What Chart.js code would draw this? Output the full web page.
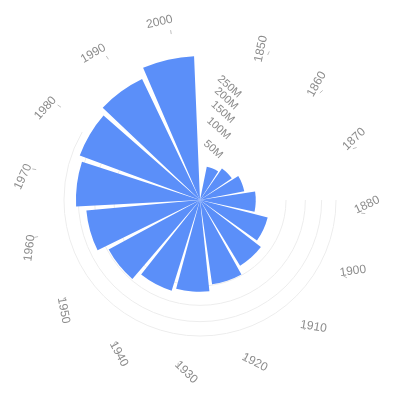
<!DOCTYPE html>
<html><head><meta charset="utf-8">
<script src="https://cdn.jsdelivr.net/npm/chart.js@4"></script>
<style>html,body{margin:0;padding:0;background:#fff}#wrap{width:400px;height:400px}</style>
</head><body><div id="wrap"><canvas id="c" width="400" height="400"></canvas></div>
<script>
// ---- data ----
const years = ['1850','1860','1870','1880','1900','1910','1920','1930','1940','1950','1960','1970','1980','1990','2000'];
const population = [15.5, 20, 27.5, 42, 66, 80, 98, 114, 122, 146, 176, 208, 222, 243, 280]; // millions
const radialTickValues = [50, 100, 150, 200, 250];
const radialTickLabels = ['50M', '100M', '150M', '200M', '250M'];
const gridValues = [100, 150, 200, 250];

// ---- sqrt radial scale ----
class SqrtRadialScale extends Chart.RadialLinearScale {
  getDistanceFromCenterForValue(value) {
    if (value === null || value === undefined || isNaN(value)) return NaN;
    const t = Math.max(0, (value - this.min) / (this.max - this.min));
    return this.drawingArea * Math.sqrt(t);
  }
  getValueForDistanceFromCenter(d) {
    const t = Math.pow(d / this.drawingArea, 2);
    return this.min + t * (this.max - this.min);
  }
}
SqrtRadialScale.id = 'sqrtRadial';
SqrtRadialScale.defaults = Chart.RadialLinearScale.defaults;
Chart.register(SqrtRadialScale);

const START_DEG = 10.4;
const SLOT_DEG = 360 / 15.5;
const PAD = 1.15 * Math.PI / 180;
const toRad = d => d * Math.PI / 180;

const decor = {
  id: 'decor',
  afterDatasetsUpdate(chart) {
    chart.getDatasetMeta(0).data.forEach(a => { a.startAngle += PAD; a.endAngle -= PAD; });
  },
  beforeDatasetsDraw(chart) {
    const s = chart.scales.r, ctx = chart.ctx;
    ctx.save();
    ctx.strokeStyle = '#ededed';
    ctx.lineWidth = 1;
    gridValues.forEach(v => {
      const r = s.getDistanceFromCenterForValue(v);
      ctx.beginPath();
      ctx.arc(s.xCenter, s.yCenter, r, 0, toRad(210));
      ctx.stroke();
    });
    ctx.restore();
  },
  afterDatasetsDraw(chart) {
    const s = chart.scales.r, ctx = chart.ctx;
    const cx = s.xCenter, cy = s.yCenter;
    ctx.save();
    // radial tick labels
    ctx.fillStyle = '#8c8c8c';
    ctx.font = '11px "Liberation Sans", Arial, sans-serif';
    ctx.textAlign = 'center';
    ctx.textBaseline = 'middle';
    radialTickValues.forEach((v, k) => {
      const r = s.getDistanceFromCenterForValue(v) * 0.86;
      const a = toRad(14.5 - 90);
      ctx.save();
      ctx.translate(cx + r * Math.cos(a), cy + r * Math.sin(a));
      ctx.rotate(toRad(42));
      ctx.fillText(radialTickLabels[k], 0, 0);
      ctx.restore();
    });
    // angular labels + tiny ticks
    ctx.font = '12px "Liberation Sans", Arial, sans-serif';
    years.forEach((y, i) => {
      const deg = START_DEG + SLOT_DEG * (i + 0.5);
      const R = s.drawingArea + 14 + 1.4 * i;
      const a = toRad(deg - 90);
      let rot = -78 + 17.5 * i;
      if (rot > 90) rot -= 180;
      ctx.save();
      ctx.translate(cx + R * Math.cos(a), cy + R * Math.sin(a));
      ctx.rotate(toRad(rot));
      ctx.fillStyle = '#8c8c8c';
      ctx.fillText(y, 0, 0);
      ctx.restore();
      // tick
      const ta = toRad(deg + 3 - 90);
      const tr = s.drawingArea + 13 + 0.6 * i;
      ctx.strokeStyle = '#bfbfbf';
      ctx.lineWidth = 1;
      ctx.beginPath();
      ctx.moveTo(cx + (tr - 2) * Math.cos(ta), cy + (tr - 2) * Math.sin(ta));
      ctx.lineTo(cx + (tr + 2) * Math.cos(ta), cy + (tr + 2) * Math.sin(ta));
      ctx.stroke();
    });
    ctx.restore();
  }
};

new Chart(document.getElementById('c'), {
  type: 'polarArea',
  data: {
    labels: years,
    datasets: [{
      data: population,
      angle: SLOT_DEG,
      backgroundColor: '#5B8FF9',
      borderWidth: 0
    }]
  },
  options: {
    responsive: false,
    animation: false,
    layout: { padding: 51 },
    plugins: { legend: { display: false }, tooltip: { enabled: false } },
    scales: {
      r: {
        type: 'sqrtRadial',
        min: 0,
        max: 300,
        startAngle: START_DEG,
        grid: { display: false },
        angleLines: { display: false },
        pointLabels: { display: false },
        ticks: { display: false }
      }
    }
  },
  plugins: [decor]
});
</script>
</body></html>
